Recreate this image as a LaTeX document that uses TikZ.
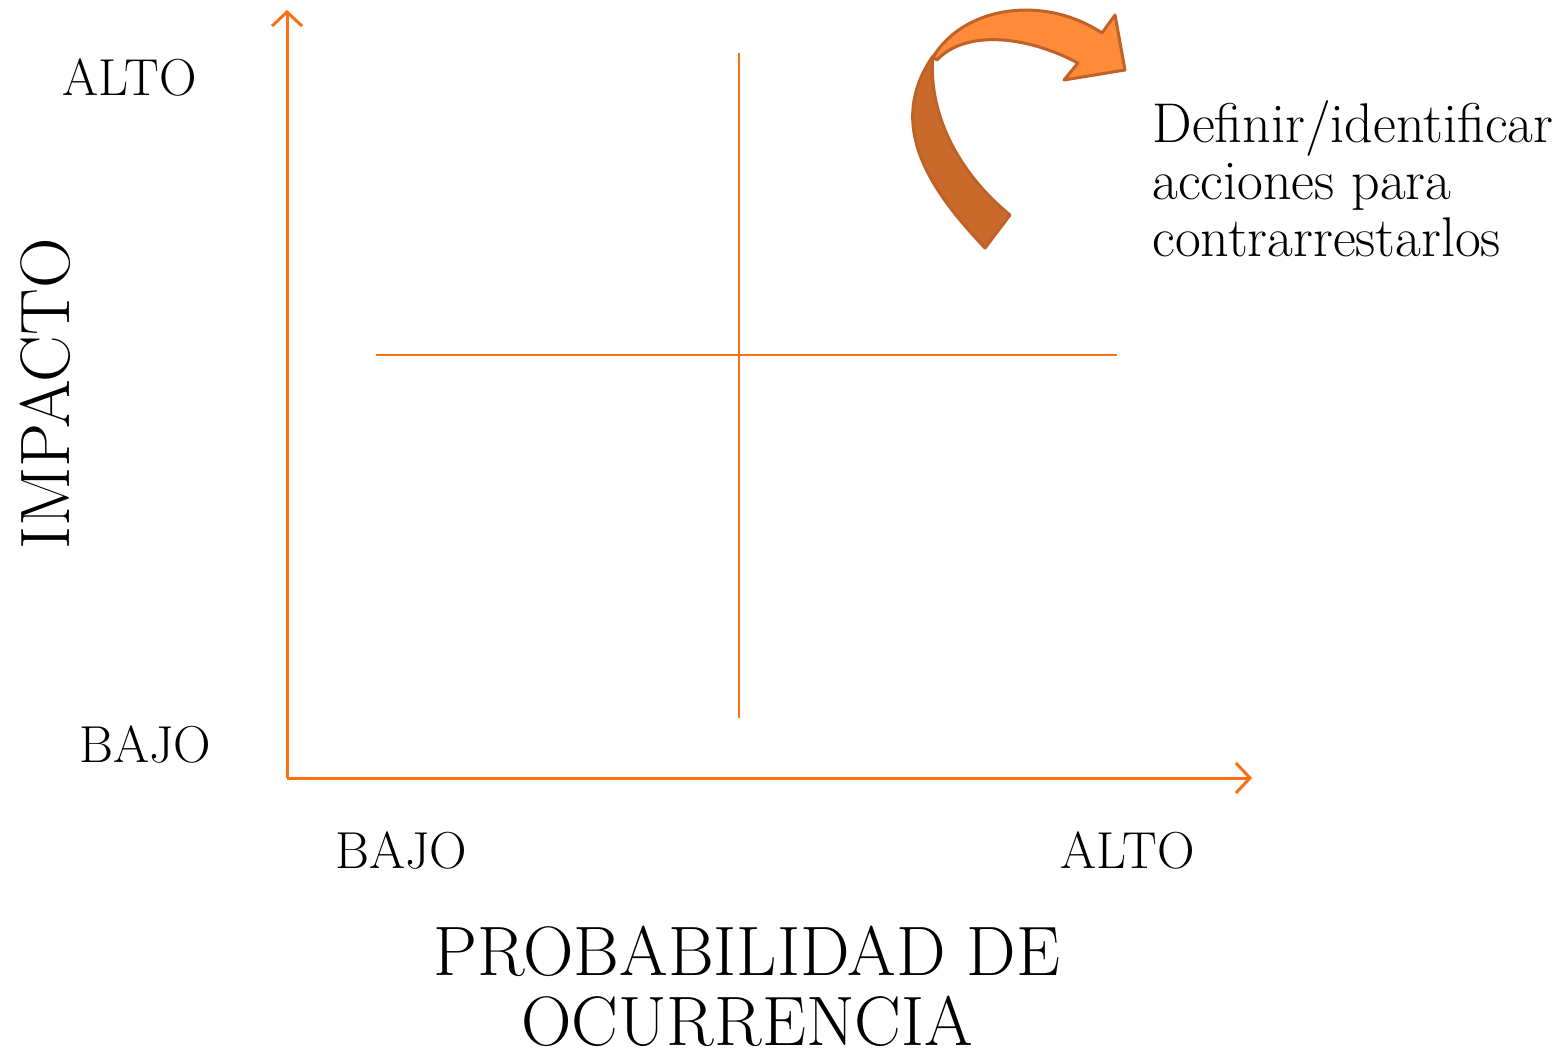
\documentclass[tikz,border=0pt]{standalone}
\usetikzlibrary{arrows.meta}
\definecolor{naranja}{RGB}{250,112,20}
\definecolor{flechaclara}{RGB}{255,138,58}
\definecolor{flechaoscura}{RGB}{201,106,43}
\definecolor{borde}{RGB}{190,98,40}
\begin{document}
\begin{tikzpicture}[x=0.5pt,y=-0.5pt,
	axis/.style={naranja, line width=1.5pt, -{Straight Barb[length=7pt,width=15pt]}},
	quad/.style={naranja, line width=1pt},
	lbl/.style={font=\fontsize{26}{30}\selectfont, inner sep=0pt},
	big/.style={font=\fontsize{35}{35}\selectfont, inner sep=0pt, align=center}]
	\useasboundingbox (0,0) rectangle (1565,1061);
	\coordinate (origin) at (287,778);
	\coordinate (ytop) at (287,10);
	\coordinate (xend) at (1252,778);
	\draw[axis] (origin) -- (ytop);
	\draw[axis] (origin) -- (xend);
	\coordinate (vtop) at (739,53);
	\coordinate (vbot) at (739,718);
	\coordinate (hleft) at (376,355);
	\coordinate (hright) at (1117,355);
	\draw[quad] (vtop) -- (vbot);
	\draw[quad] (hleft) -- (hright);
	\node[lbl] (yalto) at (130,78) {ALTO};
	\node[lbl] (ybajo) at (145,745) {BAJO};
	\node[lbl] (xbajo) at (401,851) {BAJO};
	\node[lbl] (xalto) at (1128,851) {ALTO};
	\node[big, rotate=90] (impacto) at (45,394) {IMPACTO};
	\node[big] (prob) at (747,986) {PROBABILIDAD DE\\OCURRENCIA};
	\node[anchor=west, align=left, inner sep=0pt, font=\fontsize{28}{28.5}\selectfont] (acciones) at (1152,179) {Definir/identificar\\acciones para\\contrarrestarlos};
	% flecha curva
	\filldraw[fill=flechaoscura, draw=borde, line width=1.5pt, line join=round]
		(985,248) .. controls (930,190) and (885,125) .. (933,56)
		.. controls (928,110) and (955,170) .. (1010,215) -- cycle;
	\filldraw[fill=flechaclara, draw=borde, line width=1.5pt, line join=round]
		(933,57) .. controls (965,5) and (1045,-5) .. (1102,33)
		-- (1115,15) -- (1125,70) -- (1064,80) -- (1078,63)
		.. controls (1025,35) and (965,30) .. (937,60) -- cycle;
\end{tikzpicture}
\end{document}
